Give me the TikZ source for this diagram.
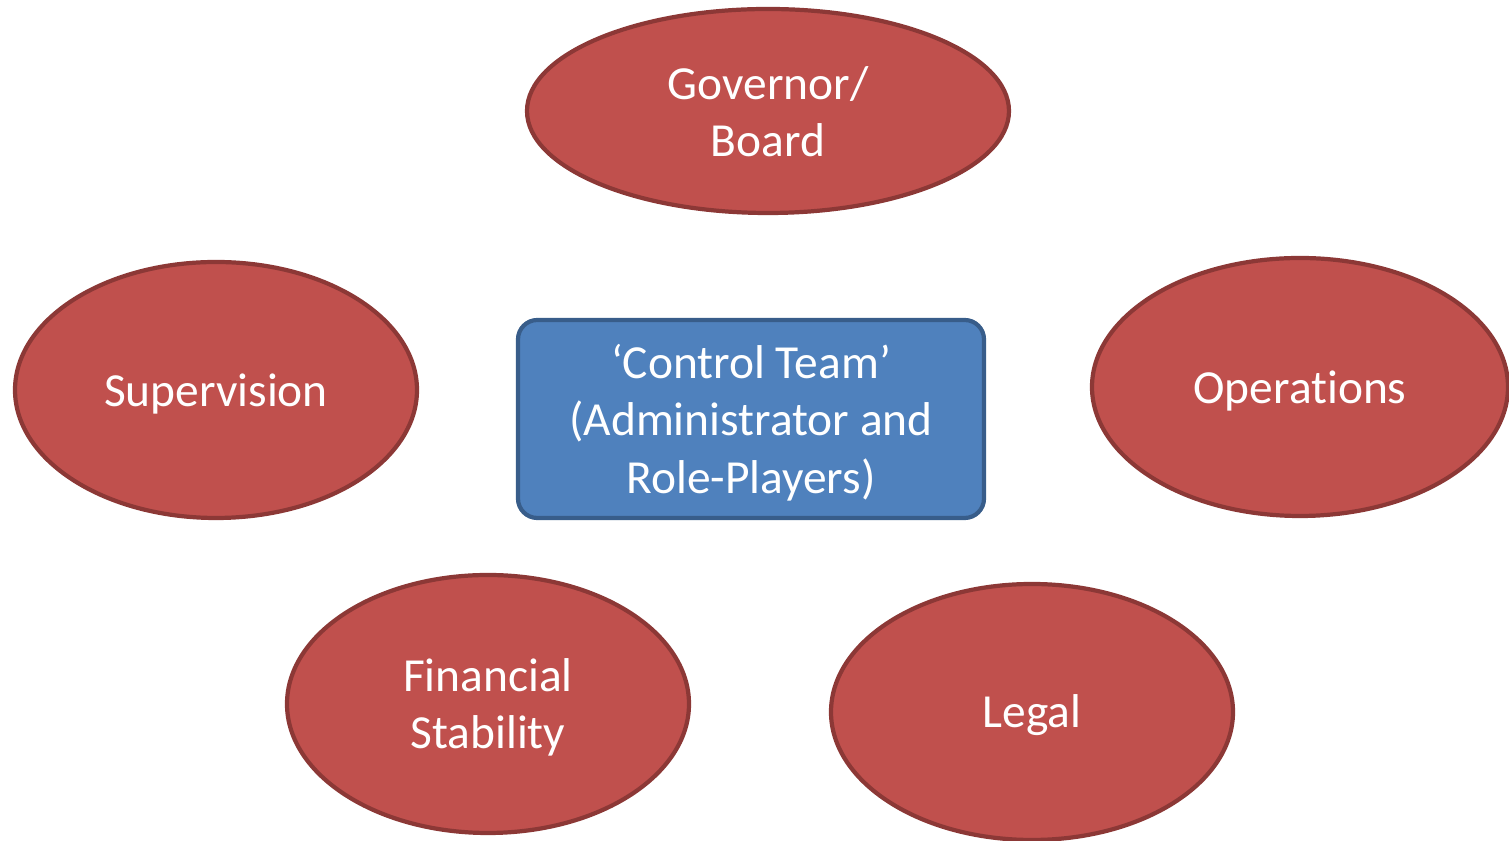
\documentclass[tikz,border=0pt]{standalone}
\usepackage{fontspec}
\setmainfont{Carlito}[RawFeature={-liga;-clig;-calt;-dlig}]
\usepackage{xcolor}
\definecolor{unitfill}{HTML}{C0504D}
\definecolor{unitline}{HTML}{8C3836}
\definecolor{teamfill}{HTML}{4F81BD}
\definecolor{teamline}{HTML}{385D8A}
\usetikzlibrary{shapes.geometric}

\tikzset{
	unit/.style = {ellipse, draw = unitline, fill = unitfill, line width = 1.2pt},
	team/.style = {rectangle, rounded corners = 5.5pt, draw = teamline, fill = teamfill,
		line width = 1.2pt},
	every label/.style = {text = white, align = center, inner sep = 0pt, yshift = -1pt,
		font = \fontsize{13.5}{16.3}\selectfont}
}

\begin{document}
\begin{tikzpicture}[x = 1cm, y = -1cm]

	\useasboundingbox (0,0) rectangle (15.09,8.41);

	% outer units
	\node [unit, minimum width = 4.82cm, minimum height = 2.04cm,
		label = {[yshift = 0.8pt]center:{Governor/\\Board}}] (board) at (7.68,1.11) {};

	\node [unit, minimum width = 4.02cm, minimum height = 2.56cm,
		label = center:{Supervision}] (supervision) at (2.16,3.90) {};

	\node [unit, minimum width = 4.16cm, minimum height = 2.58cm,
		label = center:{Operat\kern0pt ions}] (operations) at (13.00,3.87) {};

	\node [unit, minimum width = 4.02cm, minimum height = 2.58cm,
		label = center:{Financial\\Stabil\kern0pt it\kern0pt y}] (finstab) at (4.88,7.04) {};

	\node [unit, minimum width = 4.02cm, minimum height = 2.56cm,
		label = center:{Legal}] (legal) at (10.32,7.12) {};

	% centre
	\node [team, minimum width = 4.66cm, minimum height = 1.98cm,
		label = center:{`Control Team'\\(Administrator and\\Role-Players)}] (control) at (7.51,4.19) {};

\end{tikzpicture}
\end{document}
